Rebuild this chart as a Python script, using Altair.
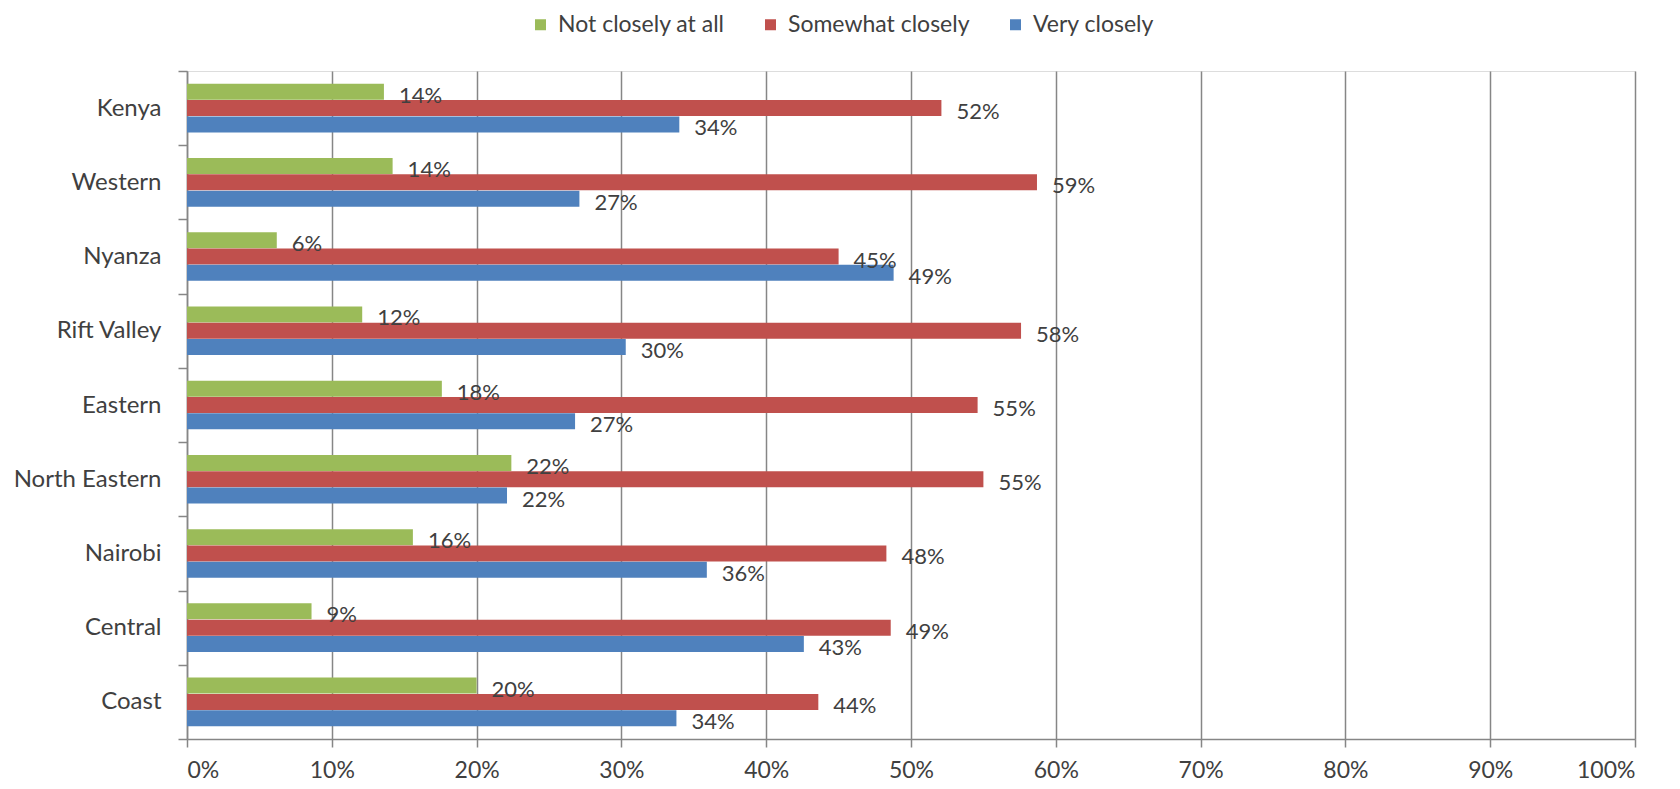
import altair as alt
import pandas as pd

categories = ["Kenya", "Western", "Nyanza", "Rift Valley", "Eastern",
              "North Eastern", "Nairobi", "Central", "Coast"]
series = ["Not closely at all", "Somewhat closely", "Very closely"]
colors = ["#9BBB59", "#C0504D", "#4F81BD"]

not_closely = [13.6, 14.2, 6.2, 12.1, 17.6, 22.4, 15.6, 8.6, 20.0]
somewhat = [52.1, 58.7, 45.0, 57.6, 54.6, 55.0, 48.3, 48.6, 43.6]
very = [34.0, 27.1, 48.8, 30.3, 26.8, 22.1, 35.9, 42.6, 33.8]

not_labels = ["14%", "14%", "6%", "12%", "18%", "22%", "16%", "9%", "20%"]
somewhat_labels = ["52%", "59%", "45%", "58%", "55%", "55%", "48%", "49%", "44%"]
very_labels = ["34%", "27%", "49%", "30%", "27%", "22%", "36%", "43%", "34%"]

x_ticks = [0, 10, 20, 30, 40, 50, 60, 70, 80, 90, 100]

rows = []
for s, vals, labs in zip(series, [not_closely, somewhat, very],
                         [not_labels, somewhat_labels, very_labels]):
    for c, v, l in zip(categories, vals, labs):
        rows.append({"cat": c, "series": s, "value": v, "label": l})
df = pd.DataFrame(rows)

FONT = "Lato"
TXT = "#404040"
GRID = "#868686"

y_enc = alt.Y("cat:N", sort=categories, title=None,
              scale=alt.Scale(paddingInner=0, paddingOuter=0),
              axis=alt.Axis(tickBand="extent", tickSize=9, tickColor=GRID, tickWidth=1.5,
                            domainColor=GRID, domainWidth=1.5, labelPadding=17,
                            labelFontSize=24, labelColor=TXT, labelFont=FONT, grid=False))
x_enc = alt.X("value:Q", title=None,
              scale=alt.Scale(domain=[0, 100], nice=False),
              axis=alt.Axis(values=x_ticks, labelExpr="datum.value + '%'",
                            grid=True, gridColor=GRID, gridWidth=1.5,
                            tickSize=8, tickColor=GRID, tickWidth=1.5,
                            domainColor=GRID, domainWidth=1.5, labelPadding=12,
                            labelFontSize=23, labelColor=TXT, labelFont=FONT))
yoff = alt.YOffset("series:N", sort=series,
                   scale=alt.Scale(domain=series, paddingInner=0, paddingOuter=0.775))

base = alt.Chart(df)

bars = base.mark_bar(size=16).encode(
    x=x_enc,
    y=y_enc,
    yOffset=yoff,
    color=alt.Color("series:N", sort=series,
                    scale=alt.Scale(domain=series, range=colors),
                    legend=alt.Legend(title=None, orient="none", direction="horizontal",
                                      legendX=342, legendY=-58, symbolType="square",
                                      symbolSize=121, symbolStrokeWidth=0,
                                      labelFontSize=23, labelColor=TXT, labelFont=FONT,
                                      labelLimit=400, labelOffset=6, columnPadding=34)),
)

text = base.mark_text(align="left", baseline="middle", dx=15, dy=4,
                      fontSize=22, font=FONT, color=TXT).encode(
    x="value:Q",
    y=alt.Y("cat:N", sort=categories),
    yOffset=alt.YOffset("series:N", sort=series),
    text="label:N",
)

chart = alt.layer(bars, text).properties(
    width=1448, height=668,
    padding={"left": 179, "top": 63, "right": 37, "bottom": 42},
    autosize=alt.AutoSizeParams(type="none"),
).configure_view(stroke=None).configure(background="white")

chart.save("out.html", embed_options={"renderer": "svg", "actions": False})
